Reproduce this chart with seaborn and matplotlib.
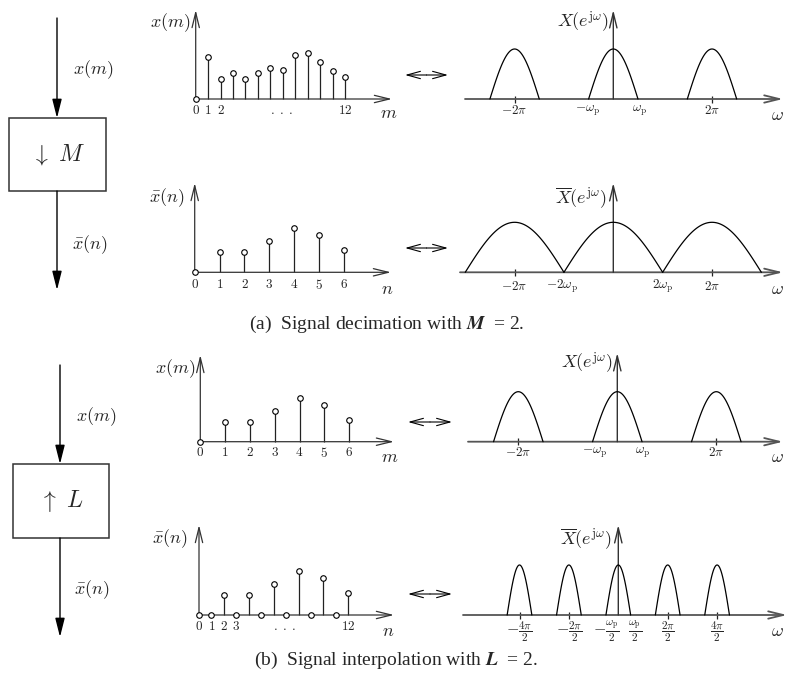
import numpy as np
import pandas as pd
import matplotlib
matplotlib.use("Agg")
import matplotlib.pyplot as plt
from matplotlib.patches import Rectangle
import seaborn as sns

sns.set_theme(style="white")
plt.rcParams['font.family'] = ['Liberation Serif', 'DejaVu Serif']
plt.rcParams['mathtext.fontset'] = 'cm'

# ---------------- data ----------------
# original signal x(m), m = 0..12 (decimation example)
x_m_dec = [0, 4.2, 2.0, 2.6, 2.0, 2.6, 3.1, 2.9, 4.4, 4.6, 3.7, 2.8, 2.2]
# decimated signal (M = 2): keep every second sample
M = 2
xbar_dec = x_m_dec[::M]
# original signal x(m), m = 0..6 (interpolation example)
x_m_int = [0, 2.0, 2.0, 3.1, 4.4, 3.7, 2.2]
# interpolated signal (L = 2): zero insertion
L = 2
xbar_int = []
for v in x_m_int:
    xbar_int += [v] + [0] * (L - 1)
xbar_int = xbar_int[:-(L - 1)]

# spectra: hump centres (units of pi), half widths (units of pi), peak height
spec_centres = [[-2, 0, 2], [-2, 0, 2], [-2, 0, 2], [-2, -1, 0, 1, 2]]
spec_halfw = [0.5, 1.0, 0.5, 0.25]
spec_height = [5.0, 5.0, 5.0, 5.0]

# tick labels
ELL = r'$.\;.\;.$'
ticks_p1 = [0, 1, 2, 6.9, 12]
ticklab_p1 = ['$0$', '$1$', '$2$', ELL, '$12$']
ticks_p2 = [0, 1, 2, 3, 4, 5, 6]
ticklab_p2 = ['$%d$' % i for i in ticks_p2]
ticks_p4 = [0, 1, 2, 3, 6.9, 12]
ticklab_p4 = ['$0$', '$1$', '$2$', '$3$', ELL, '$12$']

spec_ticks = [[-2, 2], [-2, 2], [-2, 2], [-2, -1, 1, 2]]
spec_labels = [
    [(-2, r'$-2\pi$'), (-0.51, r'$-\omega_{\mathrm{p}}$'), (0.54, r'$\omega_{\mathrm{p}}$'), (2, r'$2\pi$')],
    [(-2, r'$-2\pi$'), (-1.05, r'$-2\omega_{\mathrm{p}}$'), (1.0, r'$2\omega_{\mathrm{p}}$'), (2, r'$2\pi$')],
    [(-2, r'$-2\pi$'), (-0.45, r'$-\omega_{\mathrm{p}}$'), (0.51, r'$\omega_{\mathrm{p}}$'), (2, r'$2\pi$')],
    [(-2, r'$-\frac{4\pi}{2}$'), (-1, r'$-\frac{2\pi}{2}$'), (-0.24, r'$-\frac{\omega_{\mathrm{p}}}{2}$'),
     (0.34, r'$\frac{\omega_{\mathrm{p}}}{2}$'), (1, r'$\frac{2\pi}{2}$'), (2, r'$\frac{4\pi}{2}$')],
]

# ---------------- figure ----------------
W, H = 787, 679
fig = plt.figure(figsize=(W / 100, H / 100), dpi=100)
bg = fig.add_axes([0, 0, 1, 1])
bg.set_xlim(0, W)
bg.set_ylim(H, 0)
bg.axis('off')

AX_COL = '#333333'
LBL = 13
TCK = 9.5
OPEN_HEAD = '->,head_length=0.9,head_width=0.22'


def make_ax(ox, oy, sx, sy, left, right, top, bottom):
    ax = fig.add_axes([left / W, 1 - bottom / H, (right - left) / W, (bottom - top) / H])
    ax.set_xlim((left - ox) / sx, (right - ox) / sx)
    ax.set_ylim((oy - bottom) / sy, (oy - top) / sy)
    ax.axis('off')
    ax.patch.set_alpha(0)
    return ax


def axis_arrows(ax, ox, oy, sx, sy, xstart, xend, ytop, lw=0.9):
    ap = dict(arrowstyle=OPEN_HEAD, lw=lw, color=AX_COL, shrinkA=0, shrinkB=0)
    ax.annotate('', xy=((xend - ox) / sx, 0), xytext=((xstart - ox) / sx, 0),
                arrowprops=ap, annotation_clip=False)
    ax.annotate('', xy=(0, (oy - ytop) / sy), xytext=(0, 0),
                arrowprops=ap, annotation_clip=False)


def stem_panel(ox, oy, sx, xend, ytop, vals, ticks, ticklabs, tick_py,
               ylabel, ylab_px, xlabel, xlab_px):
    sy = 10.0
    ax = make_ax(ox, oy, sx, sy, ox - 5, xend + 5, ytop - 5, oy + 5)
    axis_arrows(ax, ox, oy, sx, sy, ox, xend, ytop)
    n = np.arange(len(vals))
    ax.vlines(n, 0, vals, color='#222222', lw=0.9)
    df = pd.DataFrame({'n': n, 'v': vals})
    sns.scatterplot(data=df, x='n', y='v', ax=ax, s=16, color='white',
                    edgecolor='black', linewidth=0.8, zorder=5, clip_on=False)
    ty = (oy - tick_py) / sy
    for t, lab in zip(ticks, ticklabs):
        ax.text(t, ty, lab, ha='center', va='center', fontsize=TCK)
    bg.text(ylab_px[0], ylab_px[1], ylabel, ha='right', va='center', fontsize=LBL)
    bg.text(xlab_px[0], xlab_px[1], xlabel, ha='center', va='center', fontsize=LBL)
    return ax


def spec_panel(x0, oy, sx, xstart, xend, ytop, centres, hw, height, tmarks,
               labels, label_py, ylabel, ylab_px, om_px, lab_size=TCK, lab_va='center'):
    sy = 10.0
    ax = make_ax(x0, oy, sx, sy, xstart - 5, xend + 5, ytop - 5, oy + 5)
    ap = dict(arrowstyle=OPEN_HEAD, lw=1.3, color='#555555', shrinkA=0, shrinkB=0)
    ax.annotate('', xy=((xend - x0) / sx, 0), xytext=((xstart - x0) / sx, 0),
                arrowprops=ap, annotation_clip=False)
    ap2 = dict(ap, lw=1.0, color=AX_COL)
    ax.annotate('', xy=(0, (oy - ytop) / sy), xytext=(0, 0),
                arrowprops=ap2, annotation_clip=False)
    for c in centres:
        w = np.linspace(c - hw, c + hw, 80)
        mag = height * np.cos(np.pi / 2 * (w - c) / hw)
        sns.lineplot(x=w, y=mag, ax=ax, color='black', lw=0.9, sort=False,
                     estimator=None, zorder=4)
    ax.vlines(tmarks, -0.35, 0.35, color='#222222', lw=0.9)
    ty = (oy - label_py) / sy
    for xx, lab in labels:
        ax.text(xx, ty, lab, ha='center', va=lab_va, fontsize=lab_size)
    bg.text(ylab_px[0], ylab_px[1], ylabel, ha='right', va='center', fontsize=LBL)
    bg.text(om_px[0], om_px[1], r'$\omega$', ha='center', va='center', fontsize=LBL)
    return ax


# ----- stem panels -----
stem_panel(195.7, 99, 12.44, 392, 10, x_m_dec, ticks_p1, ticklab_p1, 111,
           r'$x(m)$', (190, 23), r'$m$', (389, 114))
stem_panel(194.7, 272.3, 24.9, 391, 183, xbar_dec, ticks_p2, ticklab_p2, 285,
           r'$\bar{x}(n)$', (184, 198), r'$n$', (387, 289))
stem_panel(200.3, 441.7, 24.8, 394, 355, x_m_int, ticks_p2, ticklab_p2, 453,
           r'$x(m)$', (195, 369), r'$m$', (390, 458))
stem_panel(199, 615, 12.44, 394, 525, xbar_int, ticks_p4, ticklab_p4, 627,
           r'$\bar{x}(n)$', (187, 539), r'$n$', (388, 631))

# ----- spectrum panels -----
spec_panel(613.3, 99, 49.35, 465, 783, 10, spec_centres[0], spec_halfw[0], spec_height[0],
           spec_ticks[0], spec_labels[0], 111, r'$X(e^{\mathrm{j}\omega})$', (609, 22), (777, 115))
spec_panel(613.3, 272.3, 49.35, 460, 783, 183, spec_centres[1], spec_halfw[1], spec_height[1],
           spec_ticks[1], spec_labels[1], 286, r'$\overline{X}(e^{\mathrm{j}\omega})$', (607, 198), (777, 289))
spec_panel(617.3, 441.7, 49.5, 468, 783, 353, spec_centres[2], spec_halfw[2], spec_height[2],
           spec_ticks[2], spec_labels[2], 453, r'$X(e^{\mathrm{j}\omega})$', (613, 363), (777, 458))
spec_panel(618.3, 615, 49.4, 463, 787, 525, spec_centres[3], spec_halfw[3], spec_height[3],
           spec_ticks[3], spec_labels[3], 619, r'$\overline{X}(e^{\mathrm{j}\omega})$', (612, 539), (777, 631),
           lab_size=11.5, lab_va='top')

# ----- block diagrams -----
fill_ap = dict(arrowstyle='-|>,head_length=0.95,head_width=0.24', lw=1.0, color='black',
               shrinkA=0, shrinkB=0)
dbl_ap = dict(arrowstyle='->,head_length=0.8,head_width=0.22', lw=0.8, color='black',
              shrinkA=0, shrinkB=0)


def block(xc, y0, top, bottom, y1, left, right, sym, lab_in, lab_out, in_xy, out_xy):
    bg.annotate('', xy=(xc, top), xytext=(xc, y0), arrowprops=fill_ap)
    bg.add_patch(Rectangle((left, top), right - left, bottom - top, fill=False,
                           ec='#333333', lw=1.1))
    bg.annotate('', xy=(xc, y1), xytext=(xc, bottom), arrowprops=fill_ap)
    bg.text((left + right) / 2, (top + bottom) / 2, sym, ha='center', va='center', fontsize=17)
    bg.text(in_xy[0], in_xy[1], lab_in, ha='center', va='center', fontsize=LBL)
    bg.text(out_xy[0], out_xy[1], lab_out, ha='center', va='center', fontsize=LBL)


block(57, 18, 118, 191, 290, 9, 106, r'$\downarrow\ M$', r'$x(m)$', r'$\bar{x}(n)$',
      (93, 70), (90, 245))
block(60, 365, 464, 538, 637, 13, 109, r'$\uparrow\ L$', r'$x(m)$', r'$\bar{x}(n)$',
      (96, 417), (92, 590))

# double-headed "transform pair" arrows: two open heads pointing outward
for (xa, xb, yy) in [(405, 448, 75), (405, 448, 248), (408, 452, 422), (408, 452, 594)]:
    xm = (xa + xb) / 2
    bg.annotate('', xy=(xb, yy), xytext=(xm, yy), arrowprops=dbl_ap)
    bg.annotate('', xy=(xa, yy), xytext=(xm, yy), arrowprops=dbl_ap)

# ----- captions -----
bg.text(387, 324, r'(a)  Signal decimation with $\mathbfit{M}$  = 2.', ha='center', va='center',
        fontsize=14, math_fontfamily='stix')
bg.text(396, 660, r'(b)  Signal interpolation with $\mathbfit{L}$  = 2.', ha='center', va='center',
        fontsize=14, math_fontfamily='stix')

fig.savefig('out.png', dpi=100)
